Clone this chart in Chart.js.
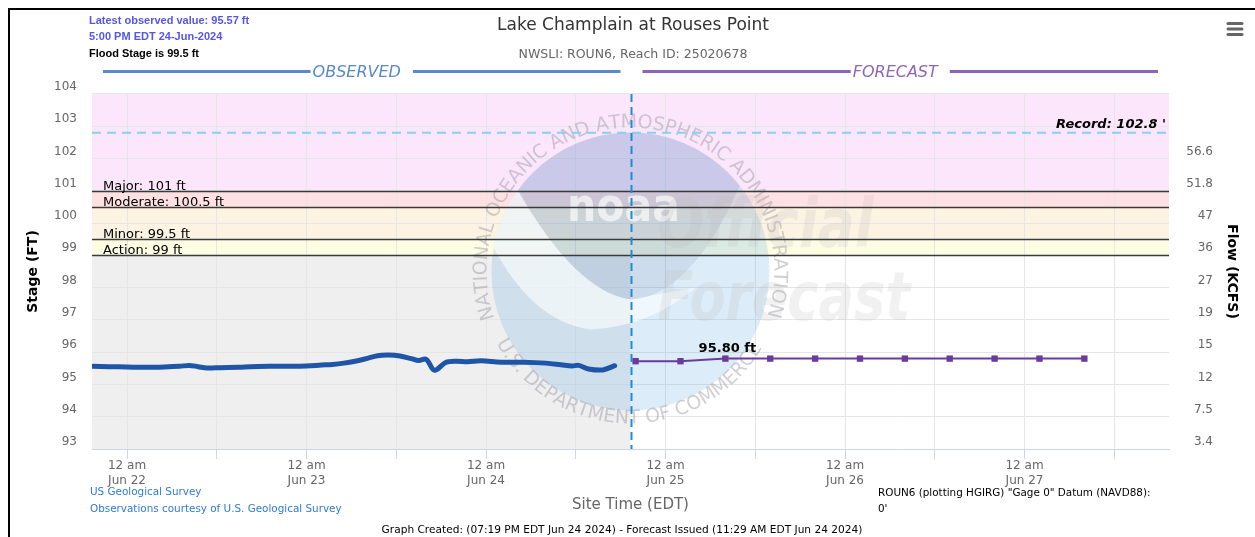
<!DOCTYPE html>
<html>
<head>
<meta charset="utf-8">
<title>Lake Champlain at Rouses Point</title>
<script src="https://cdn.jsdelivr.net/npm/chart.js@4.4.1/dist/chart.umd.min.js"></script>
<style>
  html, body { margin: 0; padding: 0; background: #fff; }
  #wrap { width: 1255px; height: 537px; }
</style>
</head>
<body>
<div id="wrap"><canvas id="hydro" width="1255" height="537"></canvas></div>
<script>
// Hours are counted from 12 am Jun 22 (EDT)
const axisStart = -4.683;   // 07:19 PM Jun 21
const axisEnd = 139.317;    // 07:19 PM Jun 27
const nowHour = 67.317;     // graph created, 07:19 PM Jun 24
const tickHours = [0, 12, 24, 36, 48, 60, 72, 84, 96, 108, 120, 132];
const dayLabels = ['Jun 22', 'Jun 23', 'Jun 24', 'Jun 25', 'Jun 26', 'Jun 27'];

// observed stage (ft)
const obsHours = [-4.6, -2.5, 0, 2.5, 5, 7, 8.3, 9.5, 10.7, 12.5, 15, 16.5, 19, 21.5, 24,
  26, 27.5, 29, 30.5, 32, 33.5, 35, 36.5, 38, 39, 40, 41.1, 42.6, 44, 45.5, 47.3,
  50, 53, 56, 58, 59.5, 60.4, 61.7, 63.6, 65.2];
const obsStage = [95.56, 95.55, 95.54, 95.53, 95.54, 95.56, 95.59, 95.55, 95.51, 95.52, 95.53, 95.55, 95.56, 95.56, 95.57,
  95.60, 95.62, 95.66, 95.72, 95.80, 95.89, 95.91, 95.88, 95.80, 95.74, 95.78, 95.44, 95.68, 95.72, 95.70, 95.73,
  95.69, 95.69, 95.66, 95.61, 95.57, 95.59, 95.48, 95.45, 95.58];

// forecast stage (ft)
const fcstHours = [68, 74, 80, 86, 92, 98, 104, 110, 116, 122, 128];
const fcstStage = [95.72, 95.72, 95.80, 95.80, 95.80, 95.80, 95.80, 95.80, 95.80, 95.80, 95.80];

// flood categories
const bandEdges = [104, 101, 100.5, 99.5, 99];
const thresholdNames = ['Major', 'Moderate', 'Minor', 'Action'];
const thresholdStages = [101, 100.5, 99.5, 99];
const recordStage = 102.8;

// right axis: flow (kcfs) for each stage gridline
const flowStages = [93, 94, 95, 96, 97, 98, 99, 100, 101, 102];
const flowLabels = ['3.4', '7.5', '12', '15', '19', '27', '36', '47', '51.8', '56.6'];

const FONT = '"DejaVu Sans", sans-serif';
const ARIAL = '"Liberation Sans", Arial, sans-serif';
const bandColors = ['#fce6fc', '#ffe1e1', '#fdf3e3', '#fefde4'];
const OBS_COLOR = '#1f55a6';
const FCST_COLOR = '#6a3a9c';

function arcText(ctx, text, cx, cy, r, a0, a1, top) {
  const widths = [...text].map(ch => ctx.measureText(ch).width);
  const total = widths.reduce((s, w) => s + w, 0);
  let acc = 0;
  [...text].forEach((ch, i) => {
    const a = a0 + (acc + widths[i] / 2) / total * (a1 - a0);
    acc += widths[i];
    ctx.save();
    ctx.translate(cx + r * Math.cos(a), cy + r * Math.sin(a));
    ctx.rotate(top ? a + Math.PI / 2 : a - Math.PI / 2);
    ctx.textAlign = 'center';
    ctx.fillText(ch, 0, 0);
    ctx.restore();
  });
}

function drawWatermark(ctx, cx, cy) {
  const R = 139;
  const deg = Math.PI / 180;
  ctx.save();
  ctx.beginPath();
  ctx.arc(cx, cy, R, 0, Math.PI * 2);
  ctx.fillStyle = 'rgba(70,160,225,0.19)';
  ctx.fill();
  ctx.save();
  ctx.beginPath();
  ctx.arc(cx, cy, R, 0, Math.PI * 2);
  ctx.clip();
  // white gull
  ctx.beginPath();
  ctx.moveTo(cx - 170, cy - 90);
  ctx.lineTo(cx - 113, cy - 82);
  ctx.quadraticCurveTo(cx - 55, cy + 20, cx, cy + 28);
  ctx.lineTo(cx + 65, cy + 16);
  ctx.quadraticCurveTo(cx + 20, cy + 55, cx - 40, cy + 58);
  ctx.quadraticCurveTo(cx - 100, cy + 50, cx - 140, cy - 30);
  ctx.lineTo(cx - 170, cy - 30);
  ctx.closePath();
  ctx.fillStyle = 'rgba(255,255,255,0.6)';
  ctx.fill();
  // dark upper part
  ctx.beginPath();
  ctx.moveTo(cx - 113, cy - 82);
  ctx.quadraticCurveTo(cx - 55, cy + 20, cx, cy + 28);
  ctx.quadraticCurveTo(cx + 60, cy + 25, cx + 109, cy - 85);
  ctx.lineTo(cx + 170, cy - 85);
  ctx.lineTo(cx + 170, cy - 200);
  ctx.lineTo(cx - 170, cy - 200);
  ctx.lineTo(cx - 170, cy - 82);
  ctx.closePath();
  ctx.fillStyle = 'rgba(60,50,110,0.09)';
  ctx.fill();
  ctx.restore();

  // noaa letters
  ctx.save();
  ctx.font = 'bold 46px ' + FONT;
  const nw = ctx.measureText('noaa').width;
  ctx.translate(cx - 7, cy - 50);
  ctx.scale(113 / nw, 1);
  ctx.fillStyle = 'rgba(255,255,255,0.65)';
  ctx.textAlign = 'center';
  ctx.fillText('noaa', 0, 0);
  ctx.restore();

  // rim lettering
  ctx.fillStyle = 'rgba(150,150,160,0.45)';
  ctx.font = '19px ' + FONT;
  arcText(ctx, 'NATIONAL OCEANIC AND ATMOSPHERIC ADMINISTRATION', cx, cy, 144, 161 * deg, 378 * deg, true);
  arcText(ctx, 'U.S. DEPARTMENT OF COMMERCE', cx, cy, 152, 152 * deg, 30 * deg, false);

  // Official Forecast
  ctx.fillStyle = 'rgba(185,185,185,0.2)';
  ctx.font = 'italic bold 68px ' + FONT;
  ctx.textAlign = 'left';
  [['Official', 216, -24], ['Forecast', 253, 49]].forEach(([t, w, dy]) => {
    const mw = ctx.measureText(t).width;
    ctx.save();
    ctx.translate(cx + 27, cy + dy);
    ctx.scale(w / mw, 1);
    ctx.fillText(t, 0, 0);
    ctx.restore();
  });
  ctx.restore();
}

const hydroPlugin = {
  id: 'hydro',
  afterLayout(chart) {
    // flow labels end well short of the canvas edge
    const s = chart.scales.y1;
    s.right = s.left + 44;
  },
  beforeDraw(chart) {
    const { ctx, chartArea: a, scales: { x, y } } = chart;
    ctx.save();
    ctx.fillStyle = '#fff';
    ctx.fillRect(0, 0, chart.width, chart.height);
    for (let i = 0; i < bandColors.length; i++) {
      const t = y.getPixelForValue(bandEdges[i]);
      const b = y.getPixelForValue(bandEdges[i + 1]);
      ctx.fillStyle = bandColors[i];
      ctx.fillRect(a.left, t, a.right - a.left, b - t);
    }
    // observed period shading below action stage
    const nx = x.getPixelForValue(nowHour);
    const at = y.getPixelForValue(thresholdStages[3]);
    ctx.fillStyle = '#efefef';
    ctx.fillRect(a.left, at, nx - a.left, a.bottom - at);
    ctx.restore();
  },
  beforeDatasetsDraw(chart) {
    const { ctx, chartArea: a, scales: { x, y } } = chart;
    drawWatermark(ctx, (a.left + a.right) / 2, (a.top + a.bottom) / 2);
    ctx.save();
    // flood category lines
    ctx.font = '13px ' + FONT;
    ctx.textBaseline = 'alphabetic';
    thresholdStages.forEach((s, i) => {
      const py = Math.round(y.getPixelForValue(s)) + 0.5;
      ctx.strokeStyle = '#3a3a3a';
      ctx.lineWidth = 1.5;
      ctx.beginPath();
      ctx.moveTo(a.left, py);
      ctx.lineTo(a.right, py);
      ctx.stroke();
      ctx.fillStyle = '#000';
      ctx.fillText(thresholdNames[i] + ': ' + s + ' ft', a.left + 11, py - 2);
    });
    // record
    const ry = y.getPixelForValue(recordStage);
    ctx.strokeStyle = '#80d2f7';
    ctx.lineWidth = 2;
    ctx.setLineDash([9, 6]);
    ctx.beginPath();
    ctx.moveTo(a.left, ry);
    ctx.lineTo(a.right, ry);
    ctx.stroke();
    ctx.font = 'italic bold 13px ' + FONT;
    ctx.textAlign = 'right';
    ctx.fillStyle = '#000';
    ctx.fillText('Record: ' + recordStage + " '", a.right - 3, ry - 5);
    // now line
    const nx = Math.round(x.getPixelForValue(nowHour)) + 0.5;
    ctx.strokeStyle = '#1e8bd6';
    ctx.lineWidth = 2;
    ctx.setLineDash([8, 5]);
    ctx.beginPath();
    ctx.moveTo(nx, a.top);
    ctx.lineTo(nx, a.bottom);
    ctx.stroke();
    ctx.setLineDash([]);
    // OBSERVED / FORECAST header
    const hy = a.top - 22.5;
    ctx.font = 'italic 16px ' + FONT;
    ctx.textBaseline = 'middle';
    ctx.textAlign = 'left';
    [['OBSERVED', a.left, nx, '#5b88c9'], ['FORECAST', nx, a.right, '#8e66b8']].forEach(([t, l, r, c]) => {
      const w = ctx.measureText(t).width;
      const tx = (l + r) / 2 - 5 - w / 2;
      ctx.strokeStyle = c;
      ctx.fillStyle = c;
      ctx.lineWidth = 3;
      ctx.beginPath();
      ctx.moveTo(l + 11, hy);
      ctx.lineTo(tx - 2, hy);
      ctx.moveTo(tx + w + 12, hy);
      ctx.lineTo(r - 11, hy);
      ctx.stroke();
      ctx.fillText(t, tx, hy + 1);
    });
    ctx.restore();
  },
  afterDatasetsDraw(chart) {
    const { ctx } = chart;
    const meta = chart.getDatasetMeta(1);
    const top = Math.max(...fcstStage);
    const i = fcstStage.indexOf(top);
    const pt = meta.data[i];
    ctx.save();
    ctx.font = 'bold 13px ' + FONT;
    ctx.fillStyle = '#000';
    ctx.textAlign = 'center';
    ctx.fillText(top.toFixed(2) + ' ft', pt.x + 2, pt.y - 7);
    ctx.restore();
  },
  afterDraw(chart) {
    const { ctx } = chart;
    ctx.save();
    // frame
    ctx.fillStyle = '#000';
    ctx.fillRect(8, 8, chart.width - 8, 2);
    ctx.fillRect(8, 8, 2, chart.height - 8);
    // latest observation
    ctx.font = 'bold 11px ' + ARIAL;
    ctx.textBaseline = 'middle';
    ctx.fillStyle = '#5555ee';
    ctx.fillText('Latest observed value: 95.57 ft', 89, 21);
    ctx.fillText('5:00 PM EDT 24-Jun-2024', 89, 37);
    ctx.fillStyle = '#000';
    ctx.fillText('Flood Stage is 99.5 ft', 89, 54);
    // menu icon
    ctx.strokeStyle = '#666';
    ctx.lineWidth = 3;
    ctx.lineCap = 'round';
    [23.5, 29, 34.5].forEach(yy => {
      ctx.beginPath();
      ctx.moveTo(1228, yy);
      ctx.lineTo(1242, yy);
      ctx.stroke();
    });
    // credits and notes
    ctx.font = '10.4px ' + FONT;
    ctx.fillStyle = '#2f7bd5';
    ctx.fillText('US Geological Survey', 90, 492);
    ctx.fillText('Observations courtesy of U.S. Geological Survey', 90, 509);
    ctx.fillStyle = '#000';
    ctx.fillText('ROUN6 (plotting HGIRG) "Gage 0" Datum (NAVD88):', 878, 493);
    ctx.fillText("0'", 878, 509);
    ctx.font = '10.6px ' + FONT;
    ctx.textAlign = 'center';
    ctx.fillText('Graph Created: (07:19 PM EDT Jun 24 2024) - Forecast Issued (11:29 AM EDT Jun 24 2024)', 622, 530);
    ctx.restore();
  }
};

new Chart(document.getElementById('hydro'), {
  type: 'line',
  data: {
    datasets: [
      {
        label: 'Observed',
        data: obsHours.map((h, i) => ({ x: h, y: obsStage[i] })),
        borderColor: OBS_COLOR,
        borderWidth: 5,
        pointRadius: 0,
        tension: 0.35,
        borderCapStyle: 'round',
        borderJoinStyle: 'round',
        yAxisID: 'y'
      },
      {
        label: 'Forecast',
        data: fcstHours.map((h, i) => ({ x: h, y: fcstStage[i] })),
        borderColor: FCST_COLOR,
        backgroundColor: FCST_COLOR,
        borderWidth: 2,
        pointStyle: 'rect',
        pointRadius: 4.5,
        pointBorderWidth: 0,
        tension: 0,
        yAxisID: 'y'
      }
    ]
  },
  options: {
    responsive: false,
    animation: false,
    events: [],
    layout: { padding: { left: 11 } },
    plugins: {
      legend: { display: false },
      tooltip: { enabled: false },
      title: {
        display: true,
        text: 'Lake Champlain at Rouses Point',
        color: '#333',
        font: { family: FONT, size: 17, weight: 'normal' },
        padding: { top: 15, bottom: 0 }
      },
      subtitle: {
        display: true,
        text: 'NWSLI: ROUN6, Reach ID: 25020678',
        color: '#666',
        font: { family: FONT, size: 12.5 },
        padding: { top: 12, bottom: 31.5 }
      }
    },
    scales: {
      x: {
        type: 'linear',
        min: axisStart,
        max: axisEnd,
        afterBuildTicks: s => { s.ticks = tickHours.map(v => ({ value: v })); },
        afterFit: s => { s.height = 88; },
        grid: { color: '#e6e6e6', tickColor: '#ccd6eb', tickLength: 10 },
        border: { color: '#ccd6eb' },
        ticks: {
          color: '#666',
          font: { family: FONT, size: 12 },
          padding: 0,
          maxRotation: 0,
          autoSkip: false,
          callback: v => (v % 24 === 0 ? ['12 am', dayLabels[v / 24]] : '')
        },
        title: {
          display: true,
          text: 'Site Time (EDT)',
          color: '#666',
          font: { family: FONT, size: 15 },
          padding: { top: 0, bottom: 23 }
        }
      },
      y: {
        position: 'left',
        min: 93,
        max: 104,
        afterFit: s => { s.width = 81; },
        grid: { color: '#e6e6e6', drawTicks: false },
        border: { display: false },
        ticks: { stepSize: 1, color: '#666', font: { family: FONT, size: 12 }, padding: 15, labelOffset: -7 },
        title: {
          display: true,
          text: 'Stage (FT)',
          color: '#000',
          font: { family: FONT, size: 14, weight: 'bold' },
          padding: { top: 13.6 }
        }
      },
      y1: {
        position: 'right',
        min: 93,
        max: 104,
        afterFit: s => { s.width = 86; },
        grid: { display: false, drawTicks: false },
        border: { display: false },
        ticks: {
          stepSize: 1,
          color: '#666',
          font: { family: FONT, size: 12 },
          crossAlign: 'far',
          padding: 17,
          labelOffset: -7,
          callback: v => { const i = flowStages.indexOf(v); return i < 0 ? '' : flowLabels[i]; }
        },
        title: {
          display: true,
          text: 'Flow (KCFS)',
          color: '#000',
          font: { family: FONT, size: 14, weight: 'bold' },
          padding: { top: -27.4 }
        }
      }
    }
  },
  plugins: [hydroPlugin]
});
</script>
</body>
</html>
